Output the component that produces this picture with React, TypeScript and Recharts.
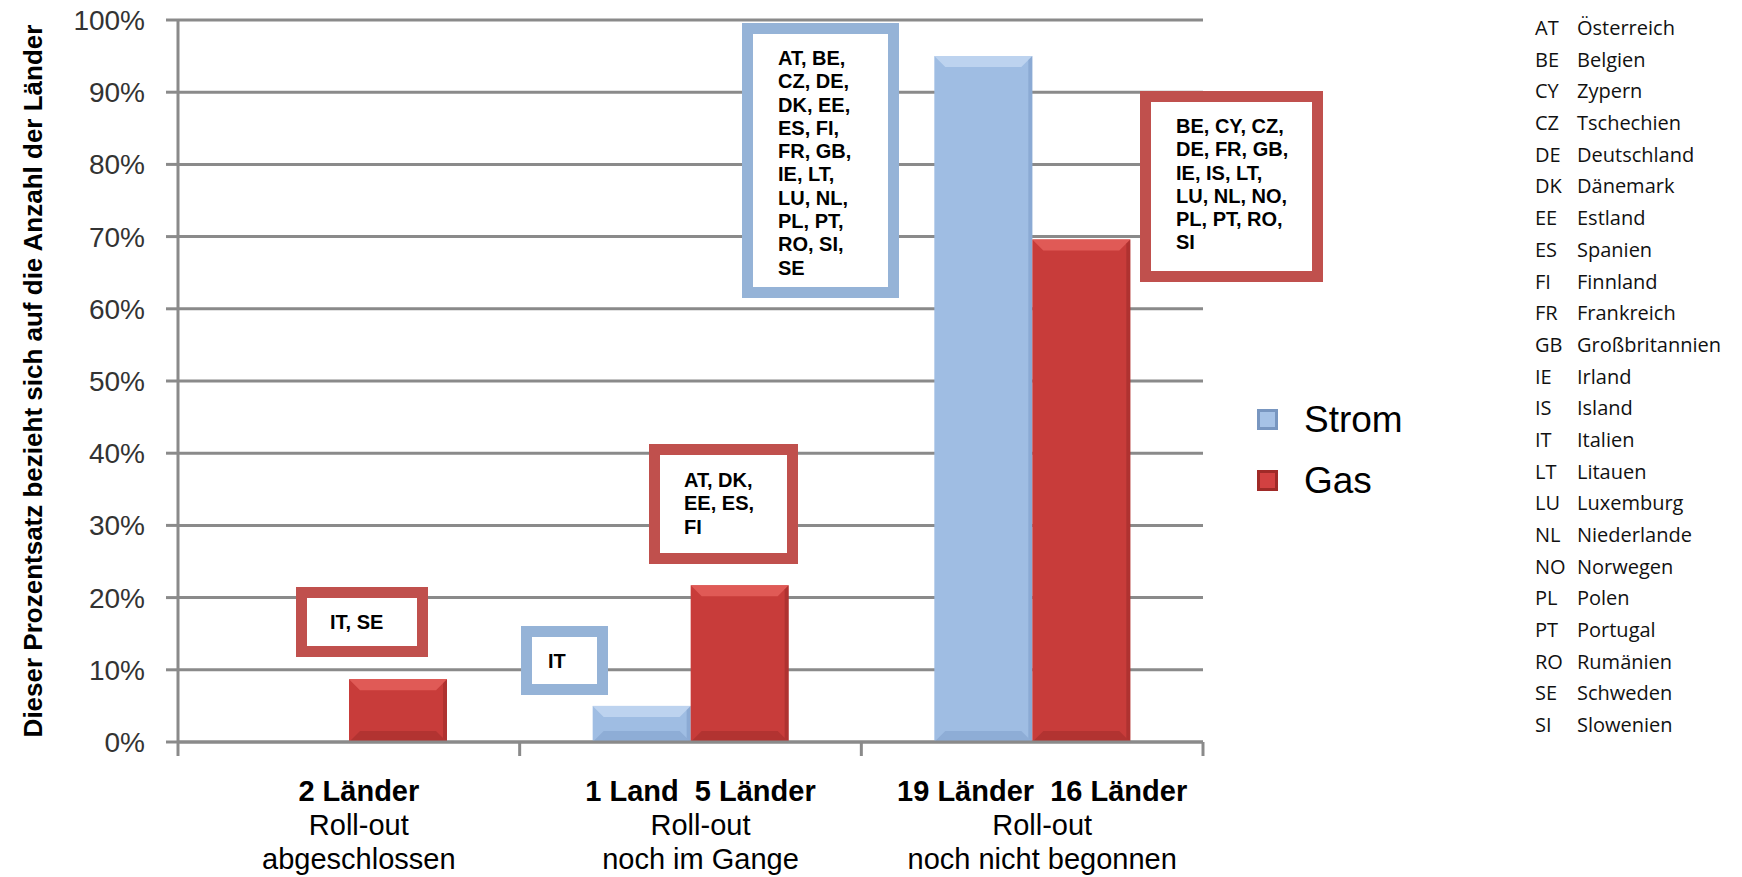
import React from 'react';
import { BarChart, Bar, XAxis, YAxis, CartesianGrid, Legend } from 'recharts';

// categories and series
const stages = ['abgeschlossen', 'noch im Gange', 'noch nicht begonnen'];
const countLabels = ['2 Länder', '1 Land  5 Länder', '19 Länder  16 Länder'];
const rollOutLabels = ['Roll-out', 'Roll-out', 'Roll-out'];
const stromValues = [0, 5, 95]; // 0/20, 1/20, 19/20
const gasValues = [8.7, 21.7, 69.6]; // 2/23, 5/23, 16/23
const yTicks = [0, 10, 20, 30, 40, 50, 60, 70, 80, 90, 100];
const seriesOrder = ['Strom', 'Gas'];

// country lists in the callouts
const gasDoneCountries = ['IT, SE'];
const stromRunningCountries = ['IT'];
const gasRunningCountries = ['AT, DK,', 'EE, ES,', 'FI'];
const stromNotStartedCountries = ['AT, BE,', 'CZ, DE,', 'DK, EE,', 'ES, FI,', 'FR, GB,', 'IE, LT,', 'LU, NL,', 'PL, PT,', 'RO, SI,', 'SE'];
const gasNotStartedCountries = ['BE, CY, CZ,', 'DE, FR, GB,', 'IE, IS, LT,', 'LU, NL, NO,', 'PL, PT, RO,', 'SI'];

const countryCodes = ['AT', 'BE', 'CY', 'CZ', 'DE', 'DK', 'EE', 'ES', 'FI', 'FR', 'GB', 'IE', 'IS', 'IT', 'LT', 'LU', 'NL', 'NO', 'PL', 'PT', 'RO', 'SE', 'SI'];
const countryNames = ['Österreich', 'Belgien', 'Zypern', 'Tschechien', 'Deutschland', 'Dänemark', 'Estland', 'Spanien', 'Finnland', 'Frankreich', 'Großbritannien', 'Irland', 'Island', 'Italien', 'Litauen', 'Luxemburg', 'Niederlande', 'Norwegen', 'Polen', 'Portugal', 'Rumänien', 'Schweden', 'Slowenien'];

const data = stages.map((s, i) => ({ name: s, Strom: stromValues[i], Gas: gasValues[i] }));

const W = 1742;
const H = 877;
const LEFT = 178;
const RIGHT = 539;
const TOP = 20;
const XH = 135;
const BAND = (W - LEFT - RIGHT) / stages.length;
const GRID = '#8a8a8a';
const FONT = '"Liberation Sans", Arial, sans-serif';
const RED = '#c0504d';
const BLUE = '#95b3d7';

const callouts = [
  { lines: gasDoneCountries, color: RED, x: 296, y: 587, w: 132, h: 70, tx: 330, ty: 611 },
  { lines: stromRunningCountries, color: BLUE, x: 521, y: 626, w: 87, h: 69, tx: 548, ty: 650 },
  { lines: gasRunningCountries, color: RED, x: 649, y: 444, w: 149, h: 120, tx: 684, ty: 469 },
  { lines: stromNotStartedCountries, color: BLUE, x: 742, y: 23, w: 157, h: 275, tx: 778, ty: 47 },
  { lines: gasNotStartedCountries, color: RED, x: 1140, y: 91, w: 183, h: 191, tx: 1176, ty: 115 },
];

const BevelBar = (props: any) => {
  const { x, y, width, height, light, base, dark } = props;
  if (!height || height <= 0) return null;
  const b = Math.min(11, height / 3);
  return (
    <g>
      <rect x={x} y={y} width={width} height={height} fill={base} />
      <polygon points={`${x},${y} ${x + width},${y} ${x + width - b},${y + b} ${x + b},${y + b}`} fill={light} />
      <polygon points={`${x},${y + height} ${x + width},${y + height} ${x + width - b},${y + height - b} ${x + b},${y + height - b}`} fill={dark} opacity={0.35} />
      <polygon points={`${x + width},${y} ${x + width},${y + height} ${x + width - 4},${y + height - 4} ${x + width - 4},${y + 4}`} fill={dark} opacity={0.4} />
    </g>
  );
};

const CategoryTick = (props: any) => {
  const { x, y, index } = props;
  const half = BAND / 2;
  const cx = x + 10;
  return (
    <g>
      <line x1={x - half} x2={x - half} y1={y} y2={y + 14} stroke={GRID} strokeWidth={3} />
      {index === stages.length - 1 && (
        <line x1={x + half} x2={x + half} y1={y} y2={y + 14} stroke={GRID} strokeWidth={3} />
      )}
      <text x={cx} y={y + 59} textAnchor="middle" fontFamily={FONT} fontSize={29} fontWeight="bold" fill="#000" style={{ whiteSpace: 'pre' }}>
        {countLabels[index]}
      </text>
      <text x={cx} y={y + 93} textAnchor="middle" fontFamily={FONT} fontSize={29} fill="#000">
        {rollOutLabels[index]}
      </text>
      <text x={cx} y={y + 127} textAnchor="middle" fontFamily={FONT} fontSize={29} fill="#000">
        {stages[index]}
      </text>
    </g>
  );
};

const YTitle = (props: any) => {
  const vb = props.viewBox || { x: 0, y: TOP, height: H - TOP - XH };
  const cx = vb.x + 33;
  const cy = vb.y + vb.height / 2;
  return (
    <text x={cx} y={cy} transform={`rotate(-90, ${cx}, ${cy})`} textAnchor="middle" dominantBaseline="central" fontFamily={FONT} fontSize={26} fontWeight="bold" fill="#000">
      Dieser Prozentsatz bezieht sich auf die Anzahl der Länder
    </text>
  );
};

const LegendContent = (props: any) => {
  const items = [...(props.payload || [])].sort(
    (a: any, b: any) => seriesOrder.indexOf(a.value) - seriesOrder.indexOf(b.value)
  );
  return (
    <div style={{ fontFamily: FONT }}>
      {items.map((it: any) => {
        const blue = it.value === 'Strom';
        return (
          <div key={it.value} style={{ display: 'flex', alignItems: 'center', height: 61 }}>
            <div
              style={{
                width: 21,
                height: 21,
                boxSizing: 'border-box',
                border: `3px solid ${blue ? '#7896c0' : '#a02a28'}`,
                background: blue ? '#a6c2e6' : '#d24141',
                marginRight: 26,
              }}
            />
            <span style={{ fontSize: 37, color: '#000' }}>{it.value}</span>
          </div>
        );
      })}
    </div>
  );
};

export default function App() {
  return (
    <div style={{ position: 'absolute', left: 0, top: 0, width: W, height: H, background: '#fff', overflow: 'hidden' }}>
      <BarChart width={W} height={H} data={data} margin={{ top: TOP, right: RIGHT, left: 0, bottom: 0 }} barSize={98} barGap={0}>
        <CartesianGrid vertical={false} stroke={GRID} strokeWidth={3} />
        <XAxis
          dataKey="name"
          height={XH}
          axisLine={{ stroke: GRID, strokeWidth: 3 }}
          tickLine={false}
          tickSize={0}
          tickMargin={0}
          interval={0}
          tick={<CategoryTick />}
        />
        <YAxis
          width={LEFT}
          domain={[0, 100]}
          ticks={yTicks}
          tickFormatter={(v: number) => `${v}%`}
          axisLine={{ stroke: GRID, strokeWidth: 3 }}
          tickLine={{ stroke: GRID, strokeWidth: 3 }}
          tickSize={12}
          tickMargin={21}
          tick={{ fill: '#333', fontSize: 28, fontFamily: FONT }}
          label={<YTitle />}
        />
        <Legend
          layout="vertical"
          align="center"
          verticalAlign="middle"
          wrapperStyle={{ left: 1257, top: 389, width: 220 }}
          content={<LegendContent />}
        />
        <Bar dataKey="Strom" isAnimationActive={false} fill="#a0bee4" shape={(p: any) => <BevelBar {...p} base="#9fbde3" light="#bdd3ef" dark="#6f8fbd" />} />
        <Bar dataKey="Gas" isAnimationActive={false} fill="#c83a3a" shape={(p: any) => <BevelBar {...p} base="#c83c3a" light="#e05a56" dark="#8a2222" />} />
      </BarChart>

      {callouts.map((c, i) => (
        <React.Fragment key={i}>
          <div
            style={{
              position: 'absolute',
              left: c.x,
              top: c.y,
              width: c.w,
              height: c.h,
              boxSizing: 'border-box',
              border: `11px solid ${c.color}`,
              background: '#fff',
            }}
          />
          <div
            style={{
              position: 'absolute',
              left: c.tx,
              top: c.ty,
              fontFamily: FONT,
              fontWeight: 'bold',
              fontSize: 20,
              lineHeight: '23.3px',
              color: '#000',
              whiteSpace: 'pre',
            }}
          >
            {c.lines.map((l, j) => (
              <div key={j}>{l}</div>
            ))}
          </div>
        </React.Fragment>
      ))}

      <div style={{ position: 'absolute', left: 1535, top: 12, fontFamily: '"Open Sans", sans-serif', fontSize: 20, color: '#111' }}>
        {countryCodes.map((code, i) => (
          <div key={code} style={{ display: 'flex', height: 31.7, lineHeight: '31.7px' }}>
            <span style={{ width: 42 }}>{code}</span>
            <span>{countryNames[i]}</span>
          </div>
        ))}
      </div>
    </div>
  );
}
